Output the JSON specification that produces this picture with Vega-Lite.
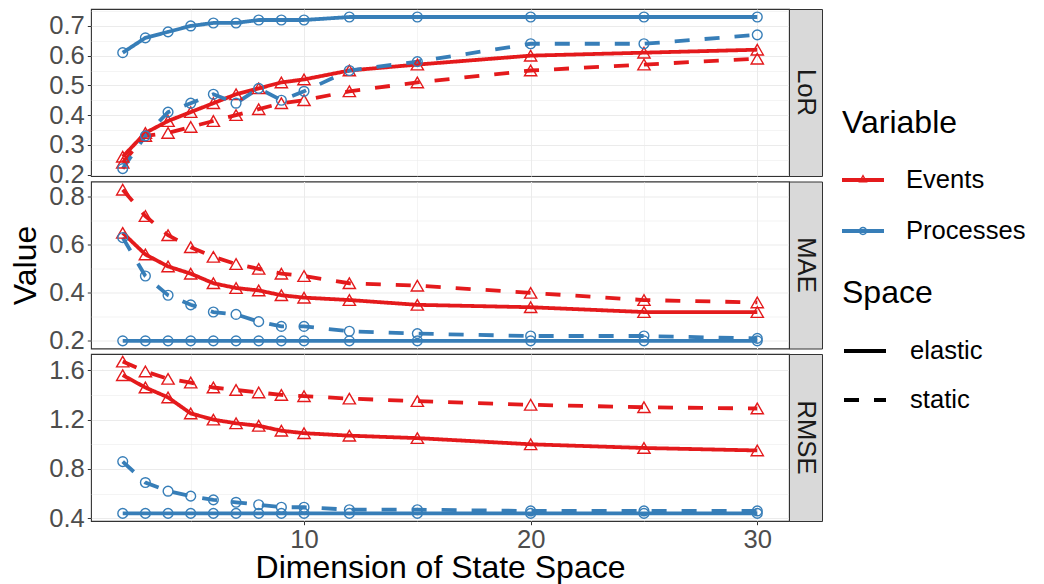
{
  "$schema": "https://vega.github.io/schema/vega-lite/v6.json",
  "padding": {"left": 9, "top": 8, "right": 0, "bottom": 0},
  "background": "white",
  "config": {
    "font": "Liberation Sans",
    "view": {"stroke": "#333333", "strokeWidth": 1.1},
    "axis": {
      "labelColor": "#4D4D4D", "labelFontSize": 25.6, "labelFont": "Liberation Sans",
      "titleFontSize": 32, "titleColor": "#000000", "titleFontWeight": "normal", "titleFont": "Liberation Sans",
      "tickSize": 3.7, "labelPadding": 3, "domain": false, "gridColor": "#EBEBEB"
    },
    "legend": {
      "titleFontSize": 32, "titleFontWeight": "normal", "titleColor": "#000000", "titleFont": "Liberation Sans",
      "labelFontSize": 25.6, "labelColor": "#000000", "labelFont": "Liberation Sans",
      "symbolSize": 1764, "labelOffset": 22, "rowPadding": 16, "titlePadding": 19, "padding": 0
    }
  },
  "datasets": {
    "d": [
      {"m":"LoR","x":2,"v":"Events","s":"elastic","y":0.26},{"m":"LoR","x":3,"v":"Events","s":"elastic","y":0.34},{"m":"LoR","x":4,"v":"Events","s":"elastic","y":0.38},{"m":"LoR","x":5,"v":"Events","s":"elastic","y":0.41},{"m":"LoR","x":6,"v":"Events","s":"elastic","y":0.44},{"m":"LoR","x":7,"v":"Events","s":"elastic","y":0.47},{"m":"LoR","x":8,"v":"Events","s":"elastic","y":0.49},{"m":"LoR","x":9,"v":"Events","s":"elastic","y":0.51},{"m":"LoR","x":10,"v":"Events","s":"elastic","y":0.52},{"m":"LoR","x":12,"v":"Events","s":"elastic","y":0.55},{"m":"LoR","x":15,"v":"Events","s":"elastic","y":0.57},{"m":"LoR","x":20,"v":"Events","s":"elastic","y":0.60},{"m":"LoR","x":25,"v":"Events","s":"elastic","y":0.61},{"m":"LoR","x":30,"v":"Events","s":"elastic","y":0.62},
      {"m":"LoR","x":2,"v":"Events","s":"static","y":0.24},{"m":"LoR","x":3,"v":"Events","s":"static","y":0.33},{"m":"LoR","x":4,"v":"Events","s":"static","y":0.34},{"m":"LoR","x":5,"v":"Events","s":"static","y":0.36},{"m":"LoR","x":6,"v":"Events","s":"static","y":0.38},{"m":"LoR","x":7,"v":"Events","s":"static","y":0.40},{"m":"LoR","x":8,"v":"Events","s":"static","y":0.42},{"m":"LoR","x":9,"v":"Events","s":"static","y":0.44},{"m":"LoR","x":10,"v":"Events","s":"static","y":0.45},{"m":"LoR","x":12,"v":"Events","s":"static","y":0.48},{"m":"LoR","x":15,"v":"Events","s":"static","y":0.51},{"m":"LoR","x":20,"v":"Events","s":"static","y":0.55},{"m":"LoR","x":25,"v":"Events","s":"static","y":0.57},{"m":"LoR","x":30,"v":"Events","s":"static","y":0.59},
      {"m":"LoR","x":2,"v":"Processes","s":"elastic","y":0.61},{"m":"LoR","x":3,"v":"Processes","s":"elastic","y":0.66},{"m":"LoR","x":4,"v":"Processes","s":"elastic","y":0.68},{"m":"LoR","x":5,"v":"Processes","s":"elastic","y":0.70},{"m":"LoR","x":6,"v":"Processes","s":"elastic","y":0.71},{"m":"LoR","x":7,"v":"Processes","s":"elastic","y":0.71},{"m":"LoR","x":8,"v":"Processes","s":"elastic","y":0.72},{"m":"LoR","x":9,"v":"Processes","s":"elastic","y":0.72},{"m":"LoR","x":10,"v":"Processes","s":"elastic","y":0.72},{"m":"LoR","x":12,"v":"Processes","s":"elastic","y":0.73},{"m":"LoR","x":15,"v":"Processes","s":"elastic","y":0.73},{"m":"LoR","x":20,"v":"Processes","s":"elastic","y":0.73},{"m":"LoR","x":25,"v":"Processes","s":"elastic","y":0.73},{"m":"LoR","x":30,"v":"Processes","s":"elastic","y":0.73},
      {"m":"LoR","x":2,"v":"Processes","s":"static","y":0.22},{"m":"LoR","x":3,"v":"Processes","s":"static","y":0.33},{"m":"LoR","x":4,"v":"Processes","s":"static","y":0.41},{"m":"LoR","x":5,"v":"Processes","s":"static","y":0.44},{"m":"LoR","x":6,"v":"Processes","s":"static","y":0.47},{"m":"LoR","x":7,"v":"Processes","s":"static","y":0.44},{"m":"LoR","x":8,"v":"Processes","s":"static","y":0.49},{"m":"LoR","x":9,"v":"Processes","s":"static","y":0.45},{"m":"LoR","x":10,"v":"Processes","s":"static","y":0.48},{"m":"LoR","x":12,"v":"Processes","s":"static","y":0.55},{"m":"LoR","x":15,"v":"Processes","s":"static","y":0.58},{"m":"LoR","x":20,"v":"Processes","s":"static","y":0.64},{"m":"LoR","x":25,"v":"Processes","s":"static","y":0.64},{"m":"LoR","x":30,"v":"Processes","s":"static","y":0.67},
      {"m":"MAE","x":2,"v":"Events","s":"elastic","y":0.65},{"m":"MAE","x":3,"v":"Events","s":"elastic","y":0.56},{"m":"MAE","x":4,"v":"Events","s":"elastic","y":0.51},{"m":"MAE","x":5,"v":"Events","s":"elastic","y":0.48},{"m":"MAE","x":6,"v":"Events","s":"elastic","y":0.44},{"m":"MAE","x":7,"v":"Events","s":"elastic","y":0.42},{"m":"MAE","x":8,"v":"Events","s":"elastic","y":0.41},{"m":"MAE","x":9,"v":"Events","s":"elastic","y":0.39},{"m":"MAE","x":10,"v":"Events","s":"elastic","y":0.38},{"m":"MAE","x":12,"v":"Events","s":"elastic","y":0.37},{"m":"MAE","x":15,"v":"Events","s":"elastic","y":0.35},{"m":"MAE","x":20,"v":"Events","s":"elastic","y":0.34},{"m":"MAE","x":25,"v":"Events","s":"elastic","y":0.32},{"m":"MAE","x":30,"v":"Events","s":"elastic","y":0.32},
      {"m":"MAE","x":2,"v":"Events","s":"static","y":0.83},{"m":"MAE","x":3,"v":"Events","s":"static","y":0.72},{"m":"MAE","x":4,"v":"Events","s":"static","y":0.64},{"m":"MAE","x":5,"v":"Events","s":"static","y":0.59},{"m":"MAE","x":6,"v":"Events","s":"static","y":0.55},{"m":"MAE","x":7,"v":"Events","s":"static","y":0.52},{"m":"MAE","x":8,"v":"Events","s":"static","y":0.50},{"m":"MAE","x":9,"v":"Events","s":"static","y":0.48},{"m":"MAE","x":10,"v":"Events","s":"static","y":0.47},{"m":"MAE","x":12,"v":"Events","s":"static","y":0.44},{"m":"MAE","x":15,"v":"Events","s":"static","y":0.43},{"m":"MAE","x":20,"v":"Events","s":"static","y":0.40},{"m":"MAE","x":25,"v":"Events","s":"static","y":0.37},{"m":"MAE","x":30,"v":"Events","s":"static","y":0.36},
      {"m":"MAE","x":2,"v":"Processes","s":"elastic","y":0.20},{"m":"MAE","x":3,"v":"Processes","s":"elastic","y":0.20},{"m":"MAE","x":4,"v":"Processes","s":"elastic","y":0.20},{"m":"MAE","x":5,"v":"Processes","s":"elastic","y":0.20},{"m":"MAE","x":6,"v":"Processes","s":"elastic","y":0.20},{"m":"MAE","x":7,"v":"Processes","s":"elastic","y":0.20},{"m":"MAE","x":8,"v":"Processes","s":"elastic","y":0.20},{"m":"MAE","x":9,"v":"Processes","s":"elastic","y":0.20},{"m":"MAE","x":10,"v":"Processes","s":"elastic","y":0.20},{"m":"MAE","x":12,"v":"Processes","s":"elastic","y":0.20},{"m":"MAE","x":15,"v":"Processes","s":"elastic","y":0.20},{"m":"MAE","x":20,"v":"Processes","s":"elastic","y":0.20},{"m":"MAE","x":25,"v":"Processes","s":"elastic","y":0.20},{"m":"MAE","x":30,"v":"Processes","s":"elastic","y":0.20},
      {"m":"MAE","x":2,"v":"Processes","s":"static","y":0.63},{"m":"MAE","x":3,"v":"Processes","s":"static","y":0.47},{"m":"MAE","x":4,"v":"Processes","s":"static","y":0.39},{"m":"MAE","x":5,"v":"Processes","s":"static","y":0.35},{"m":"MAE","x":6,"v":"Processes","s":"static","y":0.32},{"m":"MAE","x":7,"v":"Processes","s":"static","y":0.31},{"m":"MAE","x":8,"v":"Processes","s":"static","y":0.28},{"m":"MAE","x":9,"v":"Processes","s":"static","y":0.26},{"m":"MAE","x":10,"v":"Processes","s":"static","y":0.26},{"m":"MAE","x":12,"v":"Processes","s":"static","y":0.24},{"m":"MAE","x":15,"v":"Processes","s":"static","y":0.23},{"m":"MAE","x":20,"v":"Processes","s":"static","y":0.22},{"m":"MAE","x":25,"v":"Processes","s":"static","y":0.22},{"m":"MAE","x":30,"v":"Processes","s":"static","y":0.21},
      {"m":"RMSE","x":2,"v":"Events","s":"elastic","y":1.56},{"m":"RMSE","x":3,"v":"Events","s":"elastic","y":1.46},{"m":"RMSE","x":4,"v":"Events","s":"elastic","y":1.38},{"m":"RMSE","x":5,"v":"Events","s":"elastic","y":1.25},{"m":"RMSE","x":6,"v":"Events","s":"elastic","y":1.20},{"m":"RMSE","x":7,"v":"Events","s":"elastic","y":1.17},{"m":"RMSE","x":8,"v":"Events","s":"elastic","y":1.15},{"m":"RMSE","x":9,"v":"Events","s":"elastic","y":1.11},{"m":"RMSE","x":10,"v":"Events","s":"elastic","y":1.09},{"m":"RMSE","x":12,"v":"Events","s":"elastic","y":1.07},{"m":"RMSE","x":15,"v":"Events","s":"elastic","y":1.05},{"m":"RMSE","x":20,"v":"Events","s":"elastic","y":1.00},{"m":"RMSE","x":25,"v":"Events","s":"elastic","y":0.97},{"m":"RMSE","x":30,"v":"Events","s":"elastic","y":0.95},
      {"m":"RMSE","x":2,"v":"Events","s":"static","y":1.67},{"m":"RMSE","x":3,"v":"Events","s":"static","y":1.59},{"m":"RMSE","x":4,"v":"Events","s":"static","y":1.53},{"m":"RMSE","x":5,"v":"Events","s":"static","y":1.50},{"m":"RMSE","x":6,"v":"Events","s":"static","y":1.46},{"m":"RMSE","x":7,"v":"Events","s":"static","y":1.44},{"m":"RMSE","x":8,"v":"Events","s":"static","y":1.42},{"m":"RMSE","x":9,"v":"Events","s":"static","y":1.40},{"m":"RMSE","x":10,"v":"Events","s":"static","y":1.39},{"m":"RMSE","x":12,"v":"Events","s":"static","y":1.37},{"m":"RMSE","x":15,"v":"Events","s":"static","y":1.35},{"m":"RMSE","x":20,"v":"Events","s":"static","y":1.32},{"m":"RMSE","x":25,"v":"Events","s":"static","y":1.30},{"m":"RMSE","x":30,"v":"Events","s":"static","y":1.29},
      {"m":"RMSE","x":2,"v":"Processes","s":"elastic","y":0.44},{"m":"RMSE","x":3,"v":"Processes","s":"elastic","y":0.44},{"m":"RMSE","x":4,"v":"Processes","s":"elastic","y":0.44},{"m":"RMSE","x":5,"v":"Processes","s":"elastic","y":0.44},{"m":"RMSE","x":6,"v":"Processes","s":"elastic","y":0.44},{"m":"RMSE","x":7,"v":"Processes","s":"elastic","y":0.44},{"m":"RMSE","x":8,"v":"Processes","s":"elastic","y":0.44},{"m":"RMSE","x":9,"v":"Processes","s":"elastic","y":0.44},{"m":"RMSE","x":10,"v":"Processes","s":"elastic","y":0.44},{"m":"RMSE","x":12,"v":"Processes","s":"elastic","y":0.44},{"m":"RMSE","x":15,"v":"Processes","s":"elastic","y":0.44},{"m":"RMSE","x":20,"v":"Processes","s":"elastic","y":0.44},{"m":"RMSE","x":25,"v":"Processes","s":"elastic","y":0.44},{"m":"RMSE","x":30,"v":"Processes","s":"elastic","y":0.44},
      {"m":"RMSE","x":2,"v":"Processes","s":"static","y":0.86},{"m":"RMSE","x":3,"v":"Processes","s":"static","y":0.69},{"m":"RMSE","x":4,"v":"Processes","s":"static","y":0.62},{"m":"RMSE","x":5,"v":"Processes","s":"static","y":0.58},{"m":"RMSE","x":6,"v":"Processes","s":"static","y":0.55},{"m":"RMSE","x":7,"v":"Processes","s":"static","y":0.53},{"m":"RMSE","x":8,"v":"Processes","s":"static","y":0.51},{"m":"RMSE","x":9,"v":"Processes","s":"static","y":0.49},{"m":"RMSE","x":10,"v":"Processes","s":"static","y":0.49},{"m":"RMSE","x":12,"v":"Processes","s":"static","y":0.47},{"m":"RMSE","x":15,"v":"Processes","s":"static","y":0.47},{"m":"RMSE","x":20,"v":"Processes","s":"static","y":0.46},{"m":"RMSE","x":25,"v":"Processes","s":"static","y":0.46},{"m":"RMSE","x":30,"v":"Processes","s":"static","y":0.46}
    ]
  },
  "columns": 2,
  "spacing": {"row": 5.5, "column": 0},
  "bounds": "flush",
  "concat": [
    {
      "width": 698, "height": 167,
      "data": {"name": "d"},
      "transform": [{"filter": "datum.m === 'LoR'"}],
      "encoding": {
        "x": {"field": "x", "type": "quantitative", "scale": {"domain": [0.6, 31.4], "nice": false, "zero": false},
              "axis": {"values": [5, 10, 15, 20, 25, 30], "labels": false, "ticks": false, "title": null,
                       "gridWidth": {"condition": {"test": "datum.value % 10 === 0", "value": 1.07}, "value": 0.53}}},
        "y": {"field": "y", "type": "quantitative", "scale": {"domain": [0.195, 0.757], "nice": false, "zero": false},
              "axis": {"values": [0.2, 0.25, 0.3, 0.35, 0.4, 0.45, 0.5, 0.55, 0.6, 0.65, 0.7, 0.75], "title": null,
                       "labelExpr": "abs(datum.value*10 - round(datum.value*10)) < 0.01 ? format(datum.value, '.1f') : ''",
                       "tickColor": {"condition": {"test": "abs(datum.value*10 - round(datum.value*10)) < 0.01", "value": "#333333"}, "value": "transparent"},
                       "gridWidth": {"condition": {"test": "abs(datum.value*10 - round(datum.value*10)) < 0.01", "value": 1.07}, "value": 0.53}}},
        "color": {"field": "v", "type": "nominal", "scale": {"domain": ["Events", "Processes"], "range": ["#E41A1C", "#377EB8"]},
                  "legend": {"title": "Variable", "orient": "none", "legendX": 751, "legendY": 99,
                             "encode": {"symbols": {"update": {
                               "shape": {"signal": "datum.value === 'Events' ? 'M-1,-0.095H1V0.095H-1Z M0,-0.27L0.22,0.12L-0.22,0.12Z M0,-0.14L-0.11,0.06L0.11,0.06Z' : 'M-1,-0.095H1V0.095H-1Z M0.2,0A0.2,0.2 0 1 1 -0.2,0A0.2,0.2 0 1 1 0.2,0Z M0.135,0A0.135,0.135 0 1 0 -0.135,0A0.135,0.135 0 1 0 0.135,0Z'"},
                               "fill": {"scale": "color", "field": "value"},
                               "fillOpacity": {"value": 1},
                               "strokeWidth": {"value": 0}
                             }}}}}
      },
      "layer": [
        {"mark": {"type": "line", "strokeWidth": 3.8}, "encoding": {"strokeDash": {"field": "s", "type": "nominal", "scale": {"domain": ["elastic", "static"], "range": [[1, 0], [15, 15]]},
          "legend": {"title": "Space", "orient": "none", "legendX": 751, "legendY": 269, "rowPadding": 12, "titlePadding": 18, "symbolStrokeColor": "#000000", "symbolStrokeWidth": 3.8}}}},
        {"transform": [{"filter": "datum.v === 'Events'"}], "mark": {"type": "point", "shape": "triangle-up", "size": 150, "filled": false, "strokeWidth": 1.4, "opacity": 1}},
        {"transform": [{"filter": "datum.v === 'Processes'"}], "mark": {"type": "point", "shape": "circle", "size": 95, "filled": false, "strokeWidth": 1.4, "opacity": 1}}
      ]
    },
    {
      "width": 33, "height": 167,
      "view": {"fill": "#D9D9D9", "stroke": "#333333"},
      "data": {"values": [{"t": "LoR"}]},
      "mark": {"type": "text", "angle": 90, "fontSize": 25.6, "color": "#1A1A1A", "align": "center", "baseline": "middle", "font": "Liberation Sans"},
      "encoding": {"text": {"field": "t"}}
    },
    {
      "width": 698, "height": 167,
      "data": {"name": "d"},
      "transform": [{"filter": "datum.m === 'MAE'"}],
      "encoding": {
        "x": {"field": "x", "type": "quantitative", "scale": {"domain": [0.6, 31.4], "nice": false, "zero": false},
              "axis": {"values": [5, 10, 15, 20, 25, 30], "labels": false, "ticks": false, "title": null,
                       "gridWidth": {"condition": {"test": "datum.value % 10 === 0", "value": 1.07}, "value": 0.53}}},
        "y": {"field": "y", "type": "quantitative", "scale": {"domain": [0.168, 0.864], "nice": false, "zero": false},
              "axis": {"values": [0.2, 0.3, 0.4, 0.5, 0.6, 0.7, 0.8], "title": "Value", "titlePadding": 6,
                       "labelExpr": "abs(datum.value*5 - round(datum.value*5)) < 0.01 ? format(datum.value, '.1f') : ''",
                       "tickColor": {"condition": {"test": "abs(datum.value*5 - round(datum.value*5)) < 0.01", "value": "#333333"}, "value": "transparent"},
                       "gridWidth": {"condition": {"test": "abs(datum.value*5 - round(datum.value*5)) < 0.01", "value": 1.07}, "value": 0.53}}},
        "color": {"field": "v", "type": "nominal"}
      },
      "layer": [
        {"mark": {"type": "line", "strokeWidth": 3.8}, "encoding": {"strokeDash": {"field": "s", "type": "nominal"}}},
        {"transform": [{"filter": "datum.v === 'Events'"}], "mark": {"type": "point", "shape": "triangle-up", "size": 150, "filled": false, "strokeWidth": 1.4, "opacity": 1}},
        {"transform": [{"filter": "datum.v === 'Processes'"}], "mark": {"type": "point", "shape": "circle", "size": 95, "filled": false, "strokeWidth": 1.4, "opacity": 1}}
      ]
    },
    {
      "width": 33, "height": 167,
      "view": {"fill": "#D9D9D9", "stroke": "#333333"},
      "data": {"values": [{"t": "MAE"}]},
      "mark": {"type": "text", "angle": 90, "fontSize": 25.6, "color": "#1A1A1A", "align": "center", "baseline": "middle", "font": "Liberation Sans"},
      "encoding": {"text": {"field": "t"}}
    },
    {
      "width": 698, "height": 167,
      "data": {"name": "d"},
      "transform": [{"filter": "datum.m === 'RMSE'"}],
      "encoding": {
        "x": {"field": "x", "type": "quantitative", "scale": {"domain": [0.6, 31.4], "nice": false, "zero": false},
              "axis": {"values": [5, 10, 15, 20, 25, 30], "title": "Dimension of State Space", "titlePadding": -1,
                       "labelExpr": "datum.value % 10 === 0 ? format(datum.value, 'd') : ''",
                       "tickColor": {"condition": {"test": "datum.value % 10 === 0", "value": "#333333"}, "value": "transparent"},
                       "gridWidth": {"condition": {"test": "datum.value % 10 === 0", "value": 1.07}, "value": 0.53}}},
        "y": {"field": "y", "type": "quantitative", "scale": {"domain": [0.3785, 1.7315], "nice": false, "zero": false},
              "axis": {"values": [0.4, 0.6, 0.8, 1.0, 1.2, 1.4, 1.6], "title": null,
                       "labelExpr": "abs(datum.value*2.5 - round(datum.value*2.5)) < 0.01 ? format(datum.value, '.1f') : ''",
                       "tickColor": {"condition": {"test": "abs(datum.value*2.5 - round(datum.value*2.5)) < 0.01", "value": "#333333"}, "value": "transparent"},
                       "gridWidth": {"condition": {"test": "abs(datum.value*2.5 - round(datum.value*2.5)) < 0.01", "value": 1.07}, "value": 0.53}}},
        "color": {"field": "v", "type": "nominal"}
      },
      "layer": [
        {"mark": {"type": "line", "strokeWidth": 3.8}, "encoding": {"strokeDash": {"field": "s", "type": "nominal"}}},
        {"transform": [{"filter": "datum.v === 'Events'"}], "mark": {"type": "point", "shape": "triangle-up", "size": 150, "filled": false, "strokeWidth": 1.4, "opacity": 1}},
        {"transform": [{"filter": "datum.v === 'Processes'"}], "mark": {"type": "point", "shape": "circle", "size": 95, "filled": false, "strokeWidth": 1.4, "opacity": 1}}
      ]
    },
    {
      "width": 33, "height": 167,
      "view": {"fill": "#D9D9D9", "stroke": "#333333"},
      "data": {"values": [{"t": "RMSE"}]},
      "mark": {"type": "text", "angle": 90, "fontSize": 25.6, "color": "#1A1A1A", "align": "center", "baseline": "middle", "font": "Liberation Sans"},
      "encoding": {"text": {"field": "t"}}
    }
  ]
}
